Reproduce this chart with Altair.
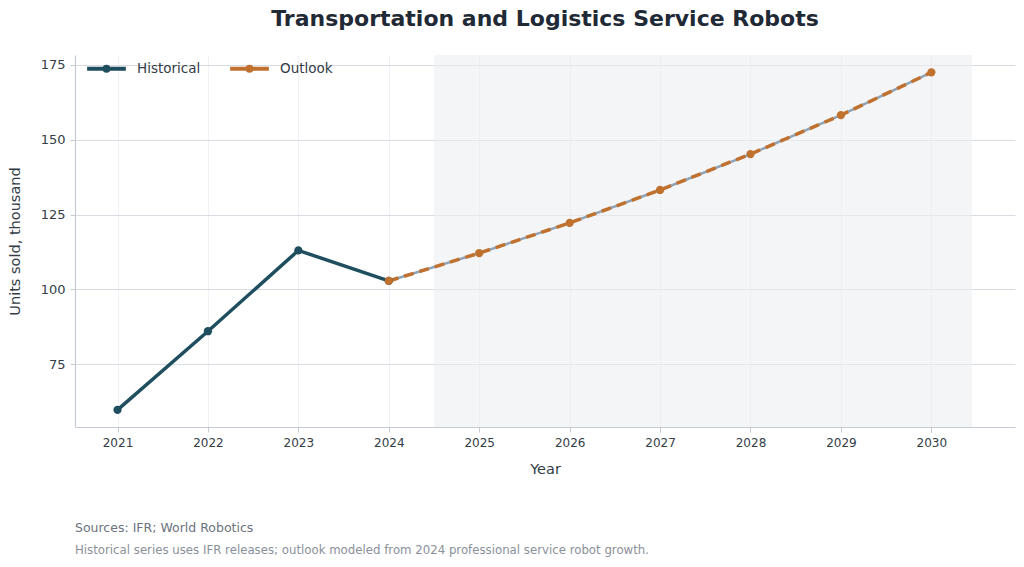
import altair as alt
import pandas as pd

hist_years = [2021, 2022, 2023, 2024]
hist_values = [59.7, 86.0, 113.0, 102.8]
out_years = [2024, 2025, 2026, 2027, 2028, 2029, 2030]
out_values = [102.8, 112.1, 122.2, 133.2, 145.2, 158.2, 172.5]
x_ticks = [2021, 2022, 2023, 2024, 2025, 2026, 2027, 2028, 2029, 2030]
y_ticks = [75, 100, 125, 150, 175]
shade_start, shade_end = [2024.5], [2030.45]
series_names = ["Historical", "Outlook"]
series_colors = ["#1f4e5f", "#c0712e"]
notes = ["Sources: IFR; World Robotics",
         "Historical series uses IFR releases; outlook modeled from 2024 professional service robot growth."]

hist = pd.DataFrame({"Year": hist_years, "Value": hist_values, "Series": "Historical"})
outl = pd.DataFrame({"Year": out_years, "Value": out_values, "Series": "Outlook"})
shade = pd.DataFrame({"start": shade_start, "end": shade_end})

# legend glyph: a line with a dot in the middle (unit coordinates)
line_dot = "M-1,0H1M0.1,0A0.1,0.1 0 1,1 -0.1,0A0.1,0.1 0 1,1 0.1,0"

W, H = 940, 372
xscale = alt.Scale(domain=[2020.53, 2030.925], nice=False, zero=False)
yscale = alt.Scale(domain=[54.0, 178.3], nice=False, zero=False)
color = alt.Color("Series:N",
                  scale=alt.Scale(domain=series_names, range=series_colors),
                  legend=alt.Legend(title=None, orient="none", legendX=10, legendY=-8,
                                    direction="horizontal", symbolType=line_dot,
                                    symbolStrokeWidth=4, symbolSize=1500,
                                    labelFontSize=13.5, labelColor="#333d47",
                                    labelFont="DejaVu Sans", columnPadding=21,
                                    symbolOffset=0, labelOffset=9))

xenc = alt.X("Year:Q", scale=xscale,
             axis=alt.Axis(values=x_ticks, format="d", title="Year", grid=True,
                           gridColor="#eceef1", gridWidth=0.8,
                           labelFontSize=12, titleFontSize=14.5, titleFontWeight="normal",
                           titlePadding=14, labelPadding=5))
yenc = alt.Y("Value:Q", scale=yscale,
             axis=alt.Axis(values=y_ticks, title="Units sold, thousand", grid=True,
                           gridColor="#d9dde3", gridWidth=1,
                           labelFontSize=13, titleFontSize=14.5, titleFontWeight="normal",
                           titlePadding=18, labelPadding=5))

shade_layer = alt.Chart(shade).mark_rect(color="#eceef2", opacity=0.6).encode(
    x=alt.X("start:Q", scale=xscale), x2="end:Q")

hist_line = alt.Chart(hist).mark_line(strokeWidth=3.5).encode(x=xenc, y=yenc, color=color)
hist_pts = alt.Chart(hist).mark_circle(size=68, opacity=1).encode(
    x="Year:Q", y="Value:Q", color=alt.Color("Series:N", legend=None))

out_under = alt.Chart(outl).mark_line(strokeWidth=2.5, color="#8fa3b5").encode(
    x="Year:Q", y="Value:Q")
out_line = alt.Chart(outl).mark_line(strokeWidth=3.5, strokeDash=[10, 6]).encode(
    x="Year:Q", y="Value:Q", color=alt.Color("Series:N", legend=None))
out_pts = alt.Chart(outl).mark_circle(size=68, opacity=1).encode(
    x="Year:Q", y="Value:Q", color=alt.Color("Series:N", legend=None))

note_df = pd.DataFrame({"text": notes})
note1 = alt.Chart(note_df.iloc[[0]]).mark_text(
    align="left", baseline="middle", fontSize=12.5, color="#6b7280", font="DejaVu Sans"
).encode(text="text:N", x=alt.value(0), y=alt.value(473))
note2 = alt.Chart(note_df.iloc[[1]]).mark_text(
    align="left", baseline="middle", fontSize=11.75, color="#8a909a", font="DejaVu Sans"
).encode(text="text:N", x=alt.value(0), y=alt.value(495))

chart = alt.layer(shade_layer, hist_line, out_under, out_line, hist_pts, out_pts, note1, note2).properties(
    width=W, height=H,
    autosize=alt.AutoSizeParams(type="none"),
    padding={"left": 75, "top": 55, "right": 9, "bottom": 140},
    title=alt.TitleParams("Transportation and Logistics Service Robots", fontSize=22,
                          font="DejaVu Sans", fontWeight="bold", color="#1f2a36",
                          anchor="middle", offset=16),
    background="white",
).configure_view(stroke=None).configure_axis(
    domainColor="#c5cbd3", tickColor="#c5cbd3", tickSize=5, domainWidth=1.2,
    labelColor="#333d47", titleColor="#333d47", labelFont="DejaVu Sans", titleFont="DejaVu Sans"
)

chart.save("out.html", embed_options={"renderer": "svg", "actions": False})
